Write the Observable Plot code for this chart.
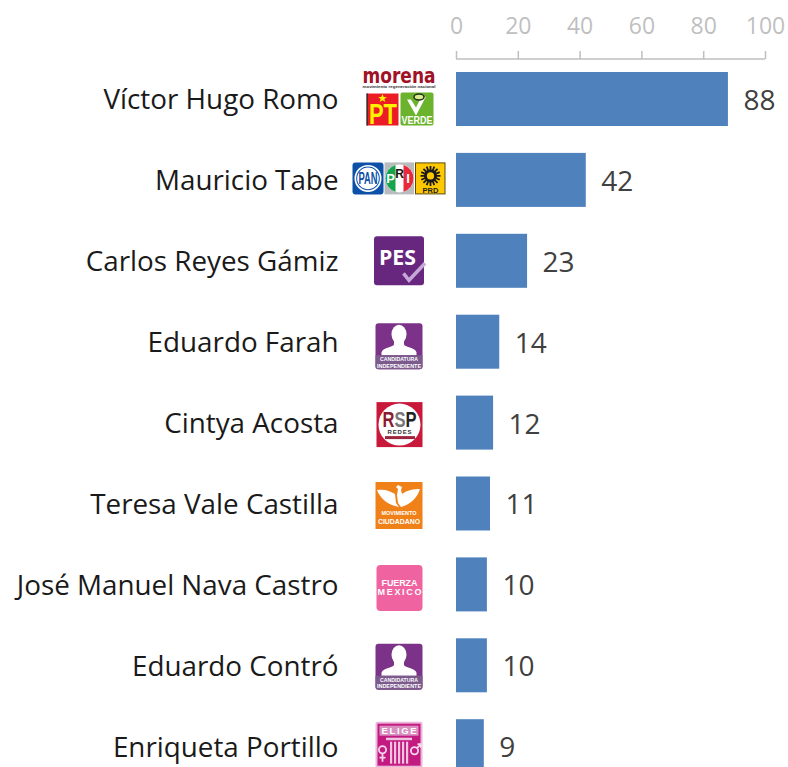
<!DOCTYPE html>
<html><head><meta charset="utf-8">
<style>html,body{margin:0;padding:0;background:#fff}svg{display:block}</style>
<script src="https://cdn.jsdelivr.net/npm/d3@7"></script>
<script src="https://cdn.jsdelivr.net/npm/@observablehq/plot@0.6"></script>
</head><body><div id="chart"></div>
<script>
const candidates = ["Víctor Hugo Romo","Mauricio Tabe","Carlos Reyes Gámiz","Eduardo Farah","Cintya Acosta","Teresa Vale Castilla","José Manuel Nava Castro","Eduardo Contró","Enriqueta Portillo"];
const values = [88,42,23,14,12,11,10,10,9];
const ticks = [0,20,40,60,80,100];
const logoKeys = ["morena","coalition","pes","ind","rsp","mc","fxm","ind2","elige"];

const F = "font-family='Liberation Sans' font-weight='bold'";
const ind = (y)=>`<g><rect x='26.5' y='${y}' width='47' height='46' rx='3' fill='#7d3289'/>
<ellipse cx='50' cy='${y+11}' rx='7.5' ry='9.5' fill='#fff'/><path d='M45 ${y+17}v4c0 3-11 3-12.5 8v3h35v-3c-1.500-5-12.500-5-12.500-8v-4z' fill='#fff'/>
<path d='M26.5 ${y+32}h47v11a3 3 0 0 1-3 3h-41a3 3 0 0 1-3-3z' fill='#7b5a8c'/><text x='50' y='${y+38}' font-size='5.4' ${F} fill='#fff' text-anchor='middle' textLength='38' lengthAdjust='spacingAndGlyphs'>CANDIDATURA</text><text x='50' y='${y+44.4}' font-size='5.4' ${F} fill='#fff' text-anchor='middle' textLength='44' lengthAdjust='spacingAndGlyphs'>INDEPENDIENTE</text></g>`;
const logoMarkup = {
morena:`<text x='50' y='34' font-family='DejaVu Sans' font-weight='bold' font-size='21' fill='#a01225' text-anchor='middle' textLength='73' lengthAdjust='spacingAndGlyphs'>morena</text>
<text x='50' y='39' ${F} font-size='4' fill='#333' text-anchor='middle' textLength='73' lengthAdjust='spacingAndGlyphs'>movimiento regeneración nacional</text>
<rect x='17.5' y='44' width='32' height='32' fill='#ec1c24'/><rect x='17.5' y='44' width='1.500' height='32' fill='#333'/>
<text x='34' y='75' ${F} font-size='29' fill='#fff200' text-anchor='middle' textLength='28' lengthAdjust='spacingAndGlyphs'>PT</text>
<path d='M33.5 44.500l1.200 3h3.200l-2.600 2 1 3-2.800-1.800-2.800 1.800 1-3-2.600-2h3.200z' fill='#fff200'/>
<rect x='51.500' y='43' width='33' height='33' rx='2' fill='#6cb32d'/>
<path d='M58 50 L67 66 L77 47 L71 50 L67 58 L62 50z' fill='#fff'/><ellipse cx='70' cy='47.500' rx='5' ry='3' fill='#dcec90' stroke='#24351a' stroke-width='1.500'/>
<text x='68' y='75' ${F} font-size='10' fill='#fff' text-anchor='middle' textLength='31' lengthAdjust='spacingAndGlyphs'>VERDE</text>`,
coalition:`<rect x='3.500' y='32' width='31' height='32' rx='3' fill='#0d50a8'/><circle cx='19' cy='48' r='13.500' fill='#fff'/><circle cx='19' cy='48' r='11.800' fill='#0d50a8'/><circle cx='19' cy='48' r='10.800' fill='#fff'/>
<text x='19' y='54' ${F} font-size='16' fill='#0d50a8' text-anchor='middle' textLength='19' lengthAdjust='spacingAndGlyphs'>PAN</text>
<rect x='35.500' y='32' width='29.500' height='32' fill='#b9bbbd'/>
<circle cx='50.500' cy='48' r='14' fill='#fff'/><path d='M46.500 34.600a14 14 0 0 0 0 26.800z' fill='#14a44d'/><path d='M54.500 34.600a14 14 0 0 1 0 26.800z' fill='#e8283a'/>
<text x='41.500' y='53' ${F} font-size='13' fill='#fff' text-anchor='middle'>P</text><text x='50.500' y='48' ${F} font-size='12' fill='#111' text-anchor='middle'>R</text><text x='59' y='53' ${F} font-size='13' fill='#fff' text-anchor='middle'>I</text>
<rect x='66.500' y='32.500' width='29.500' height='31' fill='#fdc800' stroke='#5a4a10' stroke-width='1'/>
<g stroke='#1a1a1a' stroke-width='1.800'>${d3.range(16).map(i=>`<line x1='81.500' y1='40' x2='81.500' y2='35.500' transform='rotate(${i*22.5} 81.500 45.500)'/>`).join("")}</g><circle cx='81.500' cy='45.500' r='6.500' fill='#1a1a1a'/><circle cx='81.500' cy='45.500' r='3.600' fill='#fdc800'/>
<text x='81.500' y='62.500' ${F} font-size='7.500' fill='#222' text-anchor='middle'>PRD</text>`,
pes:`<rect x='25' y='25' width='50' height='49' rx='3' fill='#68277f'/>
<text x='30' y='54' font-family='Open Sans' font-weight='bold' font-size='21' fill='#fff' textLength='37' lengthAdjust='spacingAndGlyphs'>PES</text>
<path d='M54.500 62 L60 69 L76 52' fill='none' stroke='#c5a8d8' stroke-width='3.500'/>`,
ind:ind(31),
rsp:`<rect x='27.500' y='29' width='46' height='45' fill='#c8193a'/><circle cx='50.500' cy='51.500' r='21' fill='#fff'/>
<text x='50.500' y='54' ${F} font-size='22' text-anchor='middle' textLength='34' lengthAdjust='spacingAndGlyphs'><tspan fill='#8c1a30'>R</tspan><tspan fill='#777'>S</tspan><tspan fill='#222'>P</tspan></text>
<text x='50.500' y='61' ${F} font-size='6' fill='#333' text-anchor='middle' textLength='24' lengthAdjust='spacing'>REDES</text><rect x='36' y='63' width='30' height='3' fill='#9c2540'/>`,
mc:`<rect x='26.500' y='28' width='47' height='47' fill='#f08119'/>
<path d='M28 36 C34 35 40 36 46 40 L47 49 L50 53 L46 52 C38 50 31 44 28 36z' fill='#fff'/>
<path d='M71 35 C65 35 58 36 53 40 L52 36 L53 33 L49 31 L47 33 L49 35 L48 41 L49 49 L52 53 C60 51 68 45 71 35z' fill='#fff'/>
<text x='50' y='61' ${F} font-size='6' fill='#fff' text-anchor='middle' textLength='35' lengthAdjust='spacingAndGlyphs'>MOVIMIENTO</text>
<text x='50' y='70' ${F} font-size='8' fill='#fff' text-anchor='middle' textLength='42' lengthAdjust='spacingAndGlyphs'>CIUDADANO</text>`,
fxm:`<rect x='27.500' y='30' width='46' height='46' rx='4' fill='#ef63a0'/>
<text x='50.500' y='51.500' ${F} font-size='9' fill='#fff' text-anchor='middle' textLength='36' lengthAdjust='spacing'>FUERZA</text>
<text x='50.500' y='60.500' ${F} font-size='9' fill='#fff' text-anchor='middle' textLength='44' lengthAdjust='spacing'>MEXICO</text>`,
ind2:ind(28),
elige:`<rect x='26.500' y='25' width='47' height='46' rx='2' fill='#eab6da'/><rect x='28.500' y='27' width='43' height='42' fill='#c21a80'/>
<rect x='30.500' y='29' width='39' height='10' fill='#d98fc0'/><text x='50' y='37.500' ${F} font-size='9.500' fill='#fff' text-anchor='middle' textLength='35' lengthAdjust='spacing'>ELIGE</text>
<rect x='37' y='41' width='26' height='2.500' fill='#f0c4e0'/><g fill='#f0c4e0'><rect x='41' y='45' width='2.200' height='22'/><rect x='45' y='45' width='2.200' height='22'/><rect x='49' y='45' width='2.200' height='22'/><rect x='53' y='45' width='2.200' height='22'/><rect x='57' y='45' width='2.200' height='22'/></g>
<g fill='none' stroke='#f6d5ea' stroke-width='1.800'><circle cx='33.500' cy='53' r='3.600'/><path d='M33.500 57v8M30.500 61h6'/><circle cx='65.500' cy='54' r='3.600'/><path d='M68 51.500l3.500-3.500M68.500 47.500h3.500v3.500'/></g>`
};
const logoSrc = k => "data:image/svg+xml," + encodeURIComponent(`<svg xmlns='http://www.w3.org/2000/svg' width='100' height='100' viewBox='0 0 100 100'>${logoMarkup[k]}</svg>`);
const rows = candidates.map((name,i)=>({name, value:values[i], logo:logoSrc(logoKeys[i])}));

const grey = "#bfbfbf";
const plot = Plot.plot({
  width:788, height:767, marginTop:58, marginLeft:456, marginRight:23, marginBottom:0,
  style:{fontFamily:"'Open Sans',sans-serif", background:"#fff", color:"#262626"},
  x:{domain:[0,100], axis:null},
  y:{domain:candidates, range:[45.1,800.1], padding:0.3325, round:false, axis:null},
  marks:[
    Plot.axisX({anchor:"top", ticks, tickSize:8, tickPadding:17, stroke:grey, strokeWidth:1.5, fill:grey, fontSize:23, tickFormat:d=>String(d), label:null}),
    Plot.ruleY([candidates[0]],{x1:()=>0,x2:()=>100,dy:-40.5,stroke:grey,strokeWidth:1.5}),
    Plot.axisY({anchor:"left", tickSize:0, tickPadding:118, fontSize:27.8, dy:1, fill:"#1a1a1a", label:null}),
    Plot.barX(rows,{x:"value",y:"name",fill:"#4f81bd"}),
    Plot.text(rows,{x:"value",y:"name",text:d=>String(d.value),textAnchor:"start",dx:15,dy:1.5,fontSize:28,fill:"#404040"}),
    Plot.image(rows,{y:"name",src:"logo",frameAnchor:"left",dx:-57.5,width:100,height:100})
  ]
});
document.getElementById("chart").append(plot);
</script></body></html>
